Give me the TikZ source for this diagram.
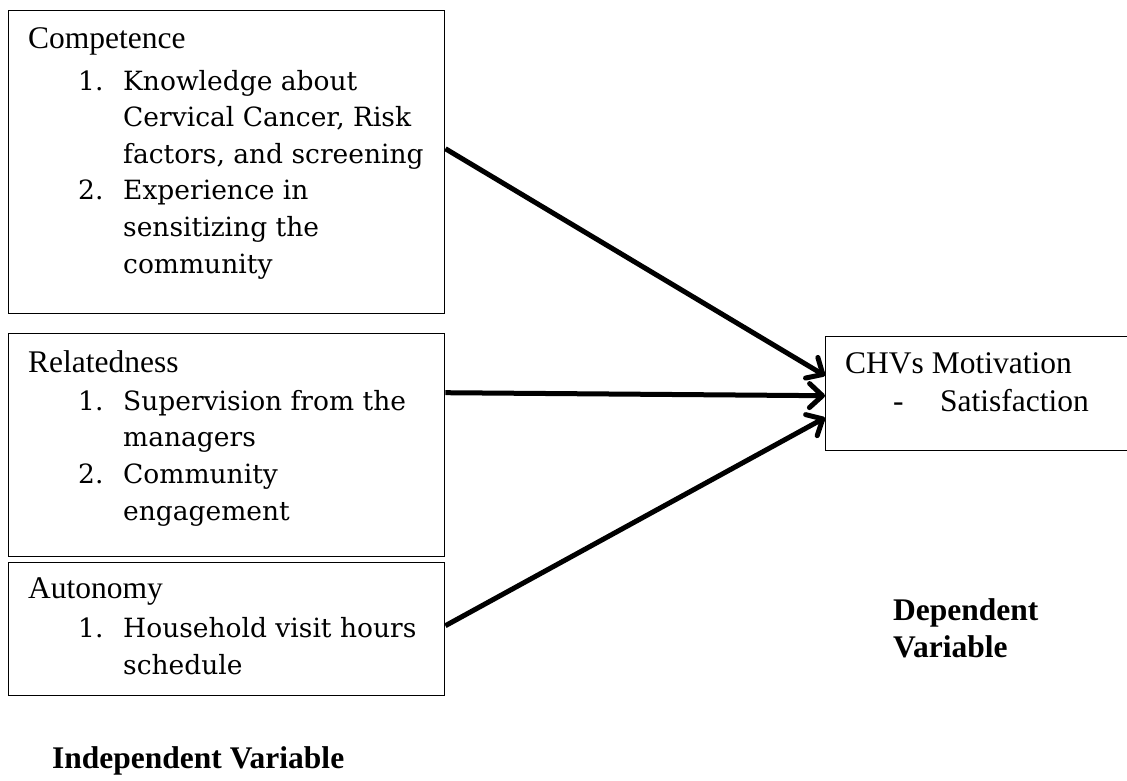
\documentclass[tikz,border=0pt]{standalone}
\usepackage{fontspec}
\setmainfont{Liberation Serif}
\newfontfamily\listfont{DejaVu Serif}
\usetikzlibrary{arrows.meta, positioning}

\begin{document}
\begin{tikzpicture}[x=1pt, y=-1pt,
  varbox/.style={draw, line width=1.4pt, anchor=north west, inner sep=0pt},
  head/.style={anchor=base west, inner sep=0pt, align=left, font=\fontsize{31.5}{38}\selectfont},
  items/.style={anchor=base west, inner sep=0pt, align=left, font=\listfont\fontsize{26.5}{36.6}\selectfont},
  caption/.style={anchor=base west, inner sep=0pt, align=left, font=\bfseries\fontsize{31.5}{37}\selectfont},
  link/.style={line width=5pt, -{Straight Barb[length=13pt, width=24pt, round]}}]
  \useasboundingbox (0,0) rectangle (1127,780);

  % Independent variable boxes
  \node[varbox, minimum width=436pt, minimum height=303pt] (comp) at (8,10) {};
  \node[varbox, minimum width=436pt, minimum height=223pt] (rel) at (8,333) {};
  \node[varbox, minimum width=436pt, minimum height=133pt] (aut) at (8,562) {};

  % Dependent variable box
  \node[varbox, minimum width=320pt, minimum height=114pt] (chv) at (825,336) {};

  % Box texts (base = last line)
  \node[head] (comphead) at (28,48) {Competence};
  \node[items] (compitems) at (123,273) {\llap{\makebox[45pt][l]{1.}}Knowledge about\\
    Cervical Cancer, Risk\\ factors, and screening\\
    \llap{\makebox[45pt][l]{2.}}Experience in\\ sensitizing the\\ community};
  \node[head] (relhead) at (28,372) {Relatedness};
  \node[items] (relitems) at (123,520) {\llap{\makebox[45pt][l]{1.}}Supervision from the\\
    managers\\ \llap{\makebox[45pt][l]{2.}}Community\\ engagement};
  \node[head] (authead) at (28,598) {Autonomy};
  \node[items] (autitems) at (123,674) {\llap{\makebox[45pt][l]{1.}}Household visit hours\\ schedule};
  \node[head] (chvhead) at (845,411) {CHVs Motivation\\
    \hspace*{48pt}\makebox[47pt][l]{-}Satisfaction};

  % Arrows into the outcome
  \draw[link] ([yshift=13.5pt]comp.east) -- ([yshift=18pt]chv.west);
  \draw[link] ([yshift=52.5pt]rel.east) -- ([yshift=-2pt]chv.west);
  \draw[link] ([yshift=3.5pt]aut.east) -- ([yshift=-24pt]chv.west);

  % Captions
  \node[caption] (indep) at (52,768) {Independent Variable};
  \node[caption] (dep) at (893,657) {Dependent\\ Variable};
\end{tikzpicture}
\end{document}
